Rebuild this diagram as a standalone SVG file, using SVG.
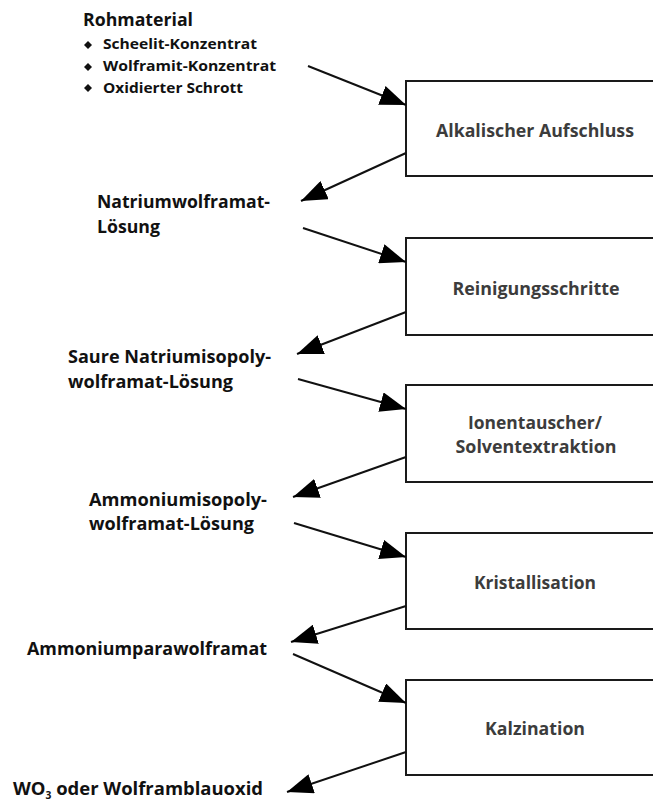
<svg xmlns="http://www.w3.org/2000/svg" width="653" height="802" viewBox="0 0 653 802">
  <style>
    .box { fill: #ffffff; stroke: #1a1a1a; stroke-width: 2; }
    .step { font-family: "Open Sans", "Liberation Sans", sans-serif; font-weight: bold; font-size: 17px; fill: #3c3c3c; text-anchor: middle; }
    .label { font-family: "Open Sans", "Liberation Sans", sans-serif; font-weight: bold; font-size: 18px; fill: #111111; }
    .sub { font-size: 10px; }
    .item { font-family: "Open Sans", "Liberation Sans", sans-serif; font-weight: bold; font-size: 15px; fill: #111111; }
    .flow { fill: none; stroke: #111111; stroke-width: 2; marker-end: url(#head); }
  </style>
  <defs>
    <marker id="head" viewBox="0 0 26 20" refX="26" refY="10" markerWidth="26" markerHeight="20" markerUnits="userSpaceOnUse" orient="auto">
      <path d="M0,0 L26,10 L0,20 Z" fill="#000000"/>
    </marker>
  </defs>

  <rect width="653" height="802" fill="#ffffff"/>

  <!-- raw material list -->
  <g id="rohmaterial">
    <text class="label" x="83" y="26" textLength="110" lengthAdjust="spacingAndGlyphs">Rohmaterial</text>
    <path d="M88,41 L92,45 L88,49 L84,45 Z" fill="#111111"/>
    <path d="M88,63 L92,67 L88,71 L84,67 Z" fill="#111111"/>
    <path d="M88,84 L92,88 L88,92 L84,88 Z" fill="#111111"/>
    <text class="item" x="103" y="49" textLength="154" lengthAdjust="spacingAndGlyphs">Scheelit-Konzentrat</text>
    <text class="item" x="103" y="71" textLength="173" lengthAdjust="spacingAndGlyphs">Wolframit-Konzentrat</text>
    <text class="item" x="103" y="93" textLength="140" lengthAdjust="spacingAndGlyphs">Oxidierter Schrott</text>
  </g>

  <!-- process steps -->
  <g id="aufschluss">
    <rect class="box" x="406" y="81" width="260" height="95"/>
    <text class="step" x="535" y="137" textLength="198" lengthAdjust="spacingAndGlyphs">Alkalischer Aufschluss</text>
  </g>
  <g id="reinigung">
    <rect class="box" x="406" y="238" width="260" height="97"/>
    <text class="step" x="536" y="295" textLength="167" lengthAdjust="spacingAndGlyphs">Reinigungsschritte</text>
  </g>
  <g id="ionentausch">
    <rect class="box" x="406" y="385" width="260" height="97"/>
    <text class="step" x="535" y="429" textLength="134" lengthAdjust="spacingAndGlyphs">Ionentauscher/</text>
    <text class="step" x="536" y="453" textLength="161" lengthAdjust="spacingAndGlyphs">Solventextraktion</text>
  </g>
  <g id="kristallisation">
    <rect class="box" x="406" y="533" width="260" height="96"/>
    <text class="step" x="535" y="589" textLength="122" lengthAdjust="spacingAndGlyphs">Kristallisation</text>
  </g>
  <g id="kalzination">
    <rect class="box" x="406" y="680" width="260" height="95"/>
    <text class="step" x="535" y="735" textLength="100" lengthAdjust="spacingAndGlyphs">Kalzination</text>
  </g>

  <!-- intermediate products -->
  <g id="natriumwolframat">
    <text class="label" x="97" y="208" textLength="173" lengthAdjust="spacingAndGlyphs">Natriumwolframat-</text>
    <text class="label" x="97" y="233" textLength="63" lengthAdjust="spacingAndGlyphs">Lösung</text>
  </g>
  <g id="natriumisopolywolframat">
    <text class="label" x="68" y="363" textLength="203" lengthAdjust="spacingAndGlyphs">Saure Natriumisopoly-</text>
    <text class="label" x="68" y="388" textLength="165" lengthAdjust="spacingAndGlyphs">wolframat-Lösung</text>
  </g>
  <g id="ammoniumisopolywolframat">
    <text class="label" x="89" y="506" textLength="178" lengthAdjust="spacingAndGlyphs">Ammoniumisopoly-</text>
    <text class="label" x="89" y="530" textLength="165" lengthAdjust="spacingAndGlyphs">wolframat-Lösung</text>
  </g>
  <g id="ammoniumparawolframat">
    <text class="label" x="27" y="655" textLength="240" lengthAdjust="spacingAndGlyphs">Ammoniumparawolframat</text>
  </g>
  <g id="wolframoxid">
    <text class="label" x="13" y="795" textLength="250" lengthAdjust="spacingAndGlyphs">WO<tspan class="sub" dy="4">3</tspan><tspan dy="-4"> oder Wolframblauoxid</tspan></text>
  </g>

  <!-- connectors -->
  <g id="connectors">
    <line class="flow" x1="308" y1="66" x2="406" y2="105"/>
    <line class="flow" x1="406" y1="153" x2="301" y2="201"/>
    <line class="flow" x1="303" y1="228" x2="406" y2="262"/>
    <line class="flow" x1="406" y1="312" x2="297" y2="354"/>
    <line class="flow" x1="298" y1="379" x2="406" y2="409"/>
    <line class="flow" x1="406" y1="457" x2="293" y2="497"/>
    <line class="flow" x1="294" y1="523" x2="406" y2="557"/>
    <line class="flow" x1="406" y1="606" x2="291" y2="642"/>
    <line class="flow" x1="293" y1="654" x2="406" y2="703"/>
    <line class="flow" x1="406" y1="752" x2="287" y2="792"/>
  </g>
</svg>
